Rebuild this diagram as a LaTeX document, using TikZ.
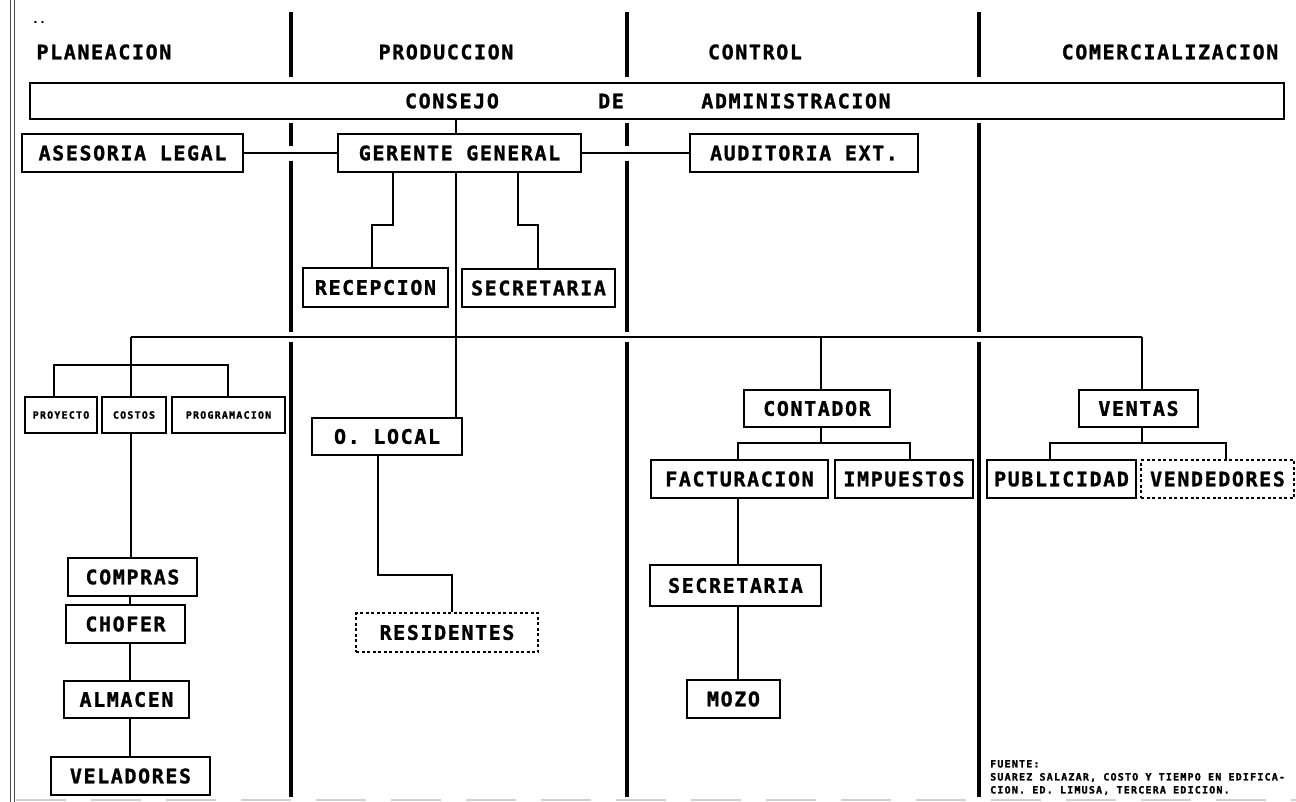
\documentclass[tikz,border=0pt]{standalone}
\usepackage{fontspec}
\newfontfamily\lblfont{DejaVu Sans Mono}[LetterSpace=8,FakeBold=1.2]
\newfontfamily\smfont{DejaVu Sans Mono}[LetterSpace=12,FakeBold=1.5]
\begin{document}
\begin{tikzpicture}[x=1pt,y=-1pt,
  lbl/.style={font=\lblfont\bfseries\fontsize{20}{20}\selectfont},
  box/.style={draw, line width=1.5pt, inner sep=0pt, lbl},
  dbox/.style={box, dash pattern=on 3pt off 2.5pt},
  sbox/.style={draw, line width=1.3pt, inner sep=0pt, font=\smfont\bfseries\fontsize{10}{10}\selectfont},
  smtxt/.style={font=\smfont\bfseries\fontsize{10}{13}\selectfont},
  conn/.style={line width=1.1pt},
  sep/.style={line width=4pt},
]
\useasboundingbox (0,0) rectangle (1296,802);
\fill[white] (0,0) rectangle (1296,802);

% scan border artefacts
\draw[line width=0.8pt, black!70] (10,0) -- (10,802);
\draw[line width=0.8pt, black!70] (14,0) -- (14,802);
\draw[line width=2pt, black!18, dash pattern=on 50pt off 25pt] (16,800) -- (1296,800);

% separators
\foreach \sx in {291,627} {
  \draw[sep] (\sx,12) -- (\sx,77);
  \draw[sep] (\sx,123) -- (\sx,146);
  \draw[sep] (\sx,161) -- (\sx,332);
  \draw[sep] (\sx,342) -- (\sx,797);
}
\draw[sep] (979,12) -- (979,77);
\draw[sep] (979,123) -- (979,332);
\draw[sep] (979,342) -- (979,797);

% headers
\node[smtxt] (dots) at (39,22) {..};
\node[lbl, anchor=west] (hplan) at (33,52) {PLANEACION};
\node[lbl] (hprod) at (446,52) {PRODUCCION};
\node[lbl] (hcont) at (755,52) {CONTROL};
\node[lbl] (hcom) at (1170,52) {COMERCIALIZACION};

% consejo
\node[box, minimum width=1254pt, minimum height=36pt] (consejo) at (657,101) {};
\node[lbl] (tcons) at (452,101) {CONSEJO};
\node[lbl] (tde) at (611,101) {DE};
\node[lbl] (tadm) at (796,101) {ADMINISTRACION};

% row 2
\node[box, minimum width=221pt, minimum height=38pt] (asesoria) at (132.5,153) {ASESORIA LEGAL};
\node[box, minimum width=243pt, minimum height=38pt] (gerente) at (459.5,153) {GERENTE GENERAL};
\node[box, minimum width=228pt, minimum height=38pt] (auditoria) at (804,153) {AUDITORIA EXT.};

% row 3
\node[box, minimum width=145pt, minimum height=39pt] (recepcion) at (375.5,287.5) {RECEPCION};
\node[box, minimum width=153pt, minimum height=38pt] (secg) at (538.5,288) {SECRETARIA};

% planeacion
\node[sbox, minimum width=72pt, minimum height=36pt] (proyecto) at (61,415) {PROYECTO};
\node[sbox, minimum width=64pt, minimum height=36pt] (costos) at (134,415) {COSTOS};
\node[sbox, minimum width=113pt, minimum height=36pt] (programacion) at (228.5,415) {PROGRAMACION};
\node[box, minimum width=129pt, minimum height=38pt] (compras) at (132.5,577) {COMPRAS};
\node[box, minimum width=119pt, minimum height=38pt] (chofer) at (125.5,624) {CHOFER};
\node[box, minimum width=125pt, minimum height=37pt] (almacen) at (126.5,699.5) {ALMACEN};
\node[box, minimum width=159pt, minimum height=38pt] (veladores) at (130.5,776) {VELADORES};

% produccion
\node[box, minimum width=150pt, minimum height=37pt] (olocal) at (387,436.5) {O. LOCAL};
\node[dbox, minimum width=182pt, minimum height=39pt] (residentes) at (447,632.5) {RESIDENTES};

% control
\node[box, minimum width=146pt, minimum height=37pt] (contador) at (817,408.5) {CONTADOR};
\node[box, minimum width=177pt, minimum height=38pt] (facturacion) at (739.5,479) {FACTURACION};
\node[box, minimum width=138pt, minimum height=38pt] (impuestos) at (904,479) {IMPUESTOS};
\node[box, minimum width=171pt, minimum height=41pt] (secc) at (735.5,585.5) {SECRETARIA};
\node[box, minimum width=93pt, minimum height=38pt] (mozo) at (733.5,699) {MOZO};

% comercializacion
\node[box, minimum width=119pt, minimum height=37pt] (ventas) at (1138.5,408.5) {VENTAS};
\node[box, minimum width=149pt, minimum height=38pt] (publicidad) at (1061.5,479) {PUBLICIDAD};
\node[dbox, minimum width=153pt, minimum height=38pt] (vendedores) at (1217.5,479) {VENDEDORES};

% footer
\node[smtxt, anchor=north west, align=left, inner sep=0pt] (fuente) at (990,760)
  {FUENTE:\\SUAREZ SALAZAR, COSTO Y TIEMPO EN EDIFICA-\\CION. ED. LIMUSA, TERCERA EDICION.};

% connectors
\draw[conn] (consejo.south -| 456,0) -- (gerente.north -| 456,0);
\draw[conn] (asesoria.east) -- (gerente.west);
\draw[conn] (gerente.east) -- (auditoria.west);
\draw[conn] (gerente.south -| 393,0) -- (393,225) -- (372,225) -- (recepcion.north -| 372,0);
\draw[conn] (gerente.south -| 518,0) -- (518,225) -- (538,225) -- (secg.north -| 538,0);
\draw[conn] (gerente.south -| 456,0) -- (olocal.north -| 456,0);
\draw[conn] (olocal.south -| 378,0) -- (378,575) -- (452,575) -- (residentes.north -| 452,0);

\coordinate (hL) at (131,337);
\coordinate (hR) at (1142,337);
\draw[conn] (hL) -- (hR);
\draw[conn] (hL) -- (costos.north -| hL);
\draw[conn] (proyecto.north -| 54,0) -- (54,365) -- (228,365) -- (programacion.north -| 228,0);
\draw[conn] (costos.south -| 131,0) -- (compras.north -| 131,0);
\draw[conn] (compras.south -| 130,0) -- (chofer.north -| 130,0);
\draw[conn] (chofer.south -| 130,0) -- (almacen.north -| 130,0);
\draw[conn] (almacen.south -| 130,0) -- (veladores.north -| 130,0);

\draw[conn] (821,337) -- (contador.north -| 821,0);
\draw[conn] (contador.south -| 821,0) -- (821,443);
\draw[conn] (facturacion.north -| 738,0) -- (738,443) -- (910,443) -- (impuestos.north -| 910,0);
\draw[conn] (facturacion.south -| 738,0) -- (secc.north -| 738,0);
\draw[conn] (secc.south -| 738,0) -- (mozo.north -| 738,0);

\draw[conn] (hR) -- (ventas.north -| hR);
\draw[conn] (ventas.south -| 1142,0) -- (1142,443);
\draw[conn] (publicidad.north -| 1050,0) -- (1050,443) -- (1226,443) -- (vendedores.north -| 1226,0);
\end{tikzpicture}
\end{document}
